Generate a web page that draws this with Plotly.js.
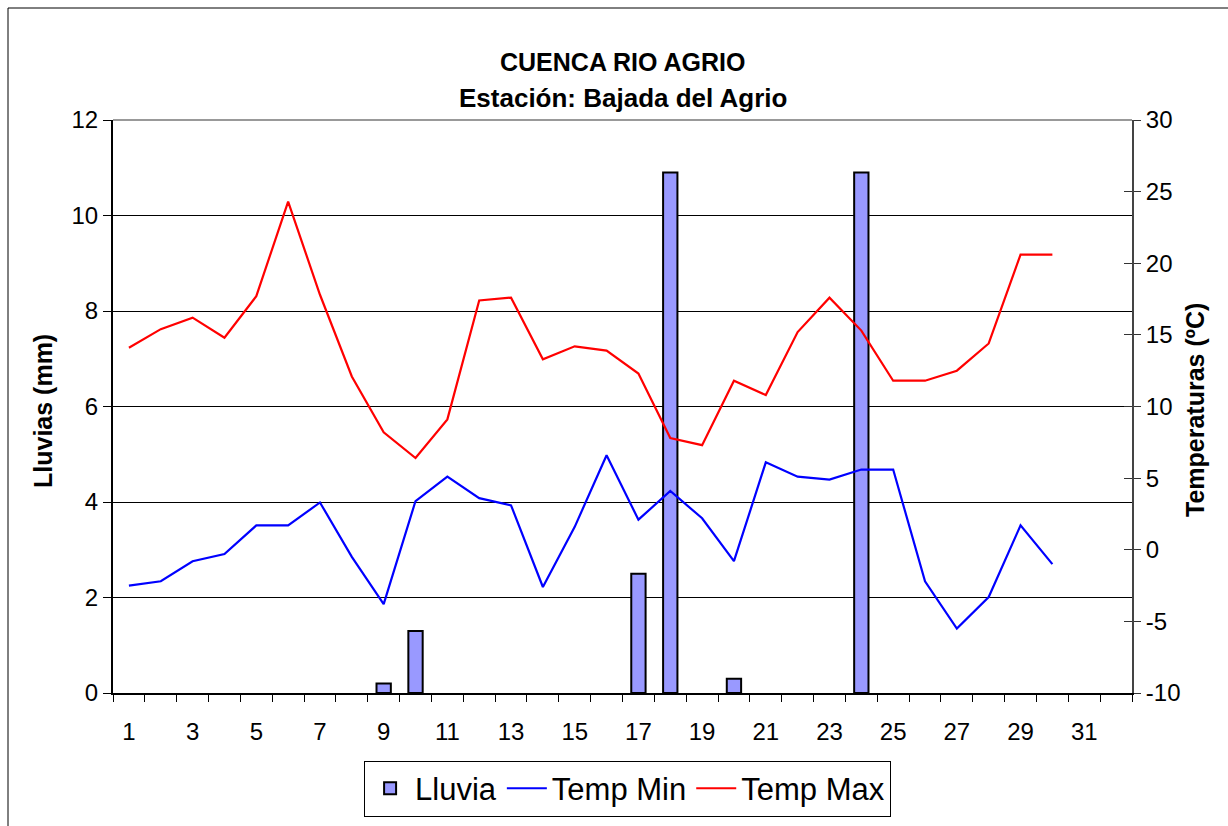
<!DOCTYPE html>
<html>
<head>
<meta charset="utf-8">
<script src="https://cdn.plot.ly/plotly-3.0.1.min.js"></script>
<style>html,body{margin:0;padding:0;background:#fff;}#chart{width:1228px;height:826px;}</style>
</head>
<body>
<div id="chart"></div>
<script>
const days = [1,2,3,4,5,6,7,8,9,10,11,12,13,14,15,16,17,18,19,20,21,22,23,24,25,26,27,28,29,30];
const lluvia = [null,null,null,null,null,null,null,null,0.2,1.3,null,null,null,null,null,null,2.5,10.9,null,0.3,null,null,null,10.9,null,null,null,null,null,null];
const tempMin = [-2.5,-2.2,-0.8,-0.3,1.7,1.7,3.3,-0.5,-3.8,3.4,5.1,3.6,3.1,-2.6,1.6,6.6,2.1,4.1,2.2,-0.8,6.1,5.1,4.9,5.6,5.6,-2.2,-5.5,-3.3,1.7,-1.0];
const tempMax = [14.1,15.4,16.2,14.8,17.7,24.3,17.8,12.1,8.2,6.4,9.1,17.4,17.6,13.3,14.2,13.9,12.3,7.8,7.3,11.8,10.8,15.2,17.6,15.3,11.8,11.8,12.5,14.4,20.6,20.6];
const xTickVals = [1,3,5,7,9,11,13,15,17,19,21,23,25,27,29,31];
const xTickText = ['1','3','5','7','9','11','13','15','17','19','21','23','25','27','29','31'];
const leftTicks = [0,2,4,6,8,10,12];
const rightTicks = [-10,-5,0,5,10,15,20,25,30];
const rightTickText = ['-10','-5','0','5','10','15','20','25','30'];

const FONT = 'Liberation Sans, Arial, sans-serif';

const traces = [
  {type:'bar', name:'Lluvia', x:days, y:lluvia, yaxis:'y',
   marker:{color:'#9999FF', line:{color:'#000', width:2}}},
  {type:'scatter', mode:'lines', name:'Temp Min', x:days, y:tempMin, yaxis:'y2',
   line:{color:'#0000FF', width:2.2}},
  {type:'scatter', mode:'lines', name:'Temp Max', x:days, y:tempMax, yaxis:'y2',
   line:{color:'#FF0000', width:2.2}},
  {type:'scatter', mode:'lines', x:[null], y:[null], yaxis:'y3', showlegend:false, hoverinfo:'skip'}
];

const layout = {
  width:1228, height:826,
  paper_bgcolor:'#fff', plot_bgcolor:'#fff',
  margin:{l:113, r:96, t:120, b:133, autoexpand:false},
  font:{family:FONT, color:'#000'},
  showlegend:true,
  bargap:0.55,
  xaxis:{
    range:[0.5,32.5], tickmode:'array', tickvals:xTickVals, ticktext:xTickText,
    ticks:'outside', ticklen:16, tickcolor:'rgba(0,0,0,0)',
    tickfont:{size:24, family:FONT},
    showgrid:false, zeroline:false,
    showline:true, linecolor:'#000', linewidth:2,
    minor:{tickmode:'linear', tick0:0.5, dtick:1, ticks:'outside', ticklen:7, tickcolor:'#000', tickwidth:1, showgrid:false}
  },
  yaxis:{
    range:[0,12], tickmode:'array', tickvals:leftTicks,
    ticks:'outside', ticklen:8, tickcolor:'#000',
    tickfont:{size:24, family:FONT},
    showgrid:true, gridcolor:'#000', gridwidth:1, zeroline:false,
    showline:true, linecolor:'#000', linewidth:2
  },
  yaxis2:{
    overlaying:'y', side:'right', range:[-10,30], tickmode:'array', tickvals:rightTicks, ticktext:rightTickText,
    ticks:'outside', ticklen:7, tickcolor:'#333',
    tickfont:{size:24, family:FONT},
    showgrid:false, zeroline:false,
    showline:true, linecolor:'#444', linewidth:2
  },
  yaxis3:{
    overlaying:'y', side:'right', range:[-10,30], tickmode:'array', tickvals:rightTicks,
    ticks:'inside', ticklen:8, tickcolor:'#333', showticklabels:false,
    showgrid:false, zeroline:false, showline:false
  },
  legend:{
    orientation:'h', x:0.505, xanchor:'center', y:-0.118, yanchor:'top',
    font:{size:31, family:FONT}, bordercolor:'#000', borderwidth:1, bgcolor:'#fff',
    itemwidth:40, tracegroupgap:0
  },
  annotations:[
    {text:'<b>CUENCA RIO AGRIO</b>', xref:'paper', yref:'paper', x:0.5, y:(693-62)/573, xanchor:'center', yanchor:'middle', showarrow:false, font:{size:25, family:FONT}},
    {text:'<b>Estación: Bajada del Agrio</b>', xref:'paper', yref:'paper', x:0.5, y:(693-98)/573, xanchor:'center', yanchor:'middle', showarrow:false, font:{size:26, family:FONT}},
    {text:'<b>Lluvias (mm)</b>', xref:'paper', yref:'paper', x:(43-113)/1019, y:(693-411)/573, xanchor:'center', yanchor:'middle', textangle:-90, showarrow:false, font:{size:25, family:FONT}},
    {text:'<b>Temperaturas (ºC)</b>', xref:'paper', yref:'paper', x:(1195-113)/1019, y:(693-410)/573, xanchor:'center', yanchor:'middle', textangle:-90, showarrow:false, font:{size:25, family:FONT}}
  ],
  shapes:[
    {type:'line', xref:'paper', yref:'paper', x0:0, x1:1, y0:1, y1:1, line:{color:'#999', width:2}, layer:'above'},
    {type:'line', xref:'paper', yref:'paper', x0:(8-113)/1019, x1:(1228-113)/1019, y0:(693-8)/573, y1:(693-8)/573, line:{color:'#000', width:1}},
    {type:'line', xref:'paper', yref:'paper', x0:(8-113)/1019, x1:(8-113)/1019, y0:(693-8)/573, y1:(693-830)/573, line:{color:'#000', width:1}}
  ]
};

Plotly.newPlot('chart', traces, layout, {displayModeBar:false, staticPlot:true});
</script>
</body>
</html>
